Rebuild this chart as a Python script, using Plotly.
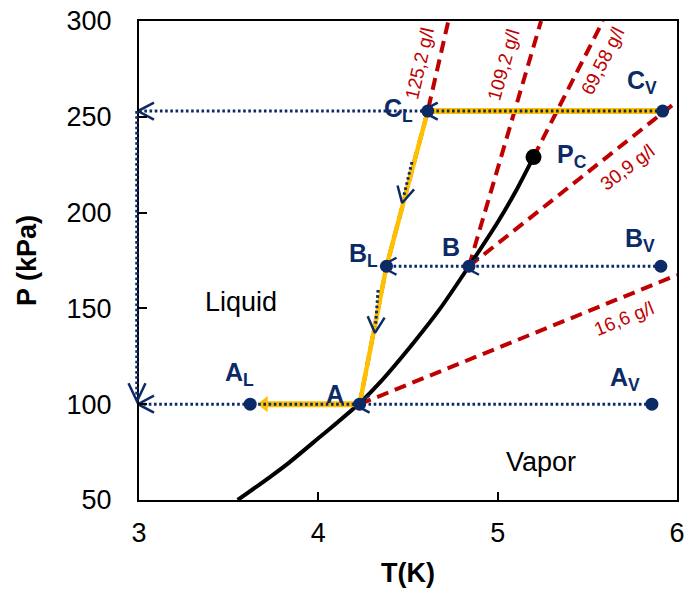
import numpy as np
import plotly.graph_objects as go

# ---------------- data ----------------
T_RANGE = [3, 6]
P_RANGE = [50, 300]
T_TICKS = [3, 4, 5, 6]
P_TICKS = [50, 100, 150, 200, 250, 300]

# saturated vapour-pressure curve (T in K, P in kPa)
sat_T = [3.55, 3.73, 3.83, 4.01, 4.10, 4.23, 4.34, 4.53, 4.68, 4.84, 5.00, 5.10, 5.20]
sat_P = [50.0, 62.0, 69.0, 83.0, 90.0, 100.5, 111.0, 132.0, 150.0, 172.0, 195.0, 211.0, 229.0]

# critical point
crit_T = [5.20]
crit_P = [229.0]

# states
state_names = ["A<sub>L</sub>", "A", "A<sub>V</sub>", "B<sub>L</sub>", "B", "B<sub>V</sub>",
               "C<sub>L</sub>", "C<sub>V</sub>"]
state_T = [3.62, 4.23, 5.86, 4.38, 4.84, 5.91, 4.61, 5.92]
state_P = [100, 100, 100, 172, 172, 172, 253, 253]
AL, A, AV, BL, B, BV, CL, CV = list(zip(state_T, state_P))

# liquid path (orange)
liq_T = [4.23, 4.38, 4.61]
liq_P = [100, 172, 253]

# isochores
iso_names = ["125,2 g/l", "109,2 g/l", "69,58 g/l", "30,9 g/l", "16,6 g/l"]
iso_T = [[4.23, 4.38, 4.61, 4.725], [4.84, 5.242], [5.20, 5.587], [4.84, 6.0], [4.23, 6.0]]
iso_P = [[100, 172, 253, 300], [172, 300], [229, 300], [172, 258], [100, 167.4]]
iso_label_T = [4.567, 5.030, 5.582, 5.721, 5.705]
iso_label_P = [277.6, 277.0, 279.1, 223.8, 144.5]
iso_label_angle = [-77, -74, -63, -37, -22]

region_names = ["Liquid", "Vapor"]
region_T = [3.569, 5.242]
region_P = [153.3, 69.8]

# small flow arrows along the liquid line
flow_T = [[4.522, 4.467], [4.333, 4.316]]
flow_P = [[226.4, 205.0], [159.6, 137.2]]

# ---------------- style ----------------
NAVY = "#0b2a66"
RED = "#c00000"
ORANGE = "#ffc000"
FONT = "Liberation Sans, Arial, sans-serif"

W, H = 687, 590
ML, MR, MT, MB = 139, 10, 21, 90
KX = (W - ML - MR) / (T_RANGE[1] - T_RANGE[0])   # px per K
KY = (H - MT - MB) / (P_RANGE[1] - P_RANGE[0])   # px per kPa


def chevron(t, p, dx, dy, back=0.0, length=16, half=8.5):
    """open arrowhead pointing in pixel direction (dx, dy) (y up), tip `back` px behind (t, p)"""
    n = np.hypot(dx, dy)
    ux, uy = dx / n, dy / n
    vx, vy = -uy, ux
    tx, ty = -back * ux, -back * uy
    pts = [(tx - length * ux + half * vx, ty - length * uy + half * vy),
           (tx, ty),
           (tx - length * ux - half * vx, ty - length * uy - half * vy)]
    return [t + a / KX for a, _ in pts], [p + b / KY for _, b in pts]


fig = go.Figure()

# isochores
for tt, pp in zip(iso_T, iso_P):
    fig.add_trace(go.Scatter(x=tt, y=pp, mode="lines",
                             line=dict(color=RED, width=4, dash="12px,7px")))

# saturation curve
fig.add_trace(go.Scatter(x=sat_T, y=sat_P, mode="lines",
                         line=dict(color="black", width=4, shape="spline", smoothing=0.6)))

# orange paths
fig.add_trace(go.Scatter(x=liq_T, y=liq_P, mode="lines", line=dict(color=ORANGE, width=4.5)))
fig.add_trace(go.Scatter(x=[CL[0], CV[0]], y=[CL[1], CV[1]], mode="lines",
                         line=dict(color=ORANGE, width=6)))
tri_T = AL[0] + 14 / KX
fig.add_trace(go.Scatter(x=[A[0], tri_T], y=[A[1], AL[1]], mode="lines",
                         line=dict(color=ORANGE, width=6)))
fig.add_trace(go.Scatter(x=[tri_T], y=[AL[1]], mode="markers",
                         marker=dict(symbol="triangle-left", size=14, color=ORANGE)))

# navy dotted paths
dot = dict(color=NAVY, width=3, dash="2.6px,2.6px")
segments = [
    ([CV[0], CL[0]], [CV[1], CL[1]]),
    ([CL[0], T_RANGE[0]], [CL[1], CL[1]]),
    ([AV[0], A[0]], [AV[1], A[1]]),
    ([A[0], AL[0]], [A[1], AL[1]]),
    ([AL[0], T_RANGE[0]], [AL[1], AL[1]]),
    ([BV[0], B[0]], [BV[1], B[1]]),
    ([B[0], BL[0]], [B[1], BL[1]]),
]
for tt, pp in segments:
    fig.add_trace(go.Scatter(x=tt, y=pp, mode="lines", line=dot))
for tt, pp in zip(flow_T, flow_P):
    fig.add_trace(go.Scatter(x=[tt[0], tt[1] + (tt[0] - tt[1]) * 0.15],
                             y=[pp[0], pp[1] + (pp[0] - pp[1]) * 0.15], mode="lines", line=dot))

# chevrons
chev = []
chev.append(chevron(CL[0], CL[1], -1, 0, back=-6))
chev.append(chevron(T_RANGE[0], CL[1], -1, 0, back=-1))
chev.append(chevron(A[0], A[1], -1, 0, back=-6))
chev.append(chevron(T_RANGE[0], AL[1], -1, 0, back=-1))
chev.append(chevron(B[0], B[1], -1, 0, back=-6))
chev.append(chevron(BL[0], BL[1], -1, 0, back=-6))
for tt, pp in zip(flow_T, flow_P):
    chev.append(chevron(tt[1], pp[1], (tt[1] - tt[0]) * KX, (pp[1] - pp[0]) * KY))
for cx, cy in chev:
    fig.add_trace(go.Scatter(x=cx, y=cy, mode="lines", line=dict(color=NAVY, width=2.5)))

# state points
fig.add_trace(go.Scatter(x=state_T, y=state_P, mode="markers",
                         marker=dict(color=NAVY, size=13)))
fig.add_trace(go.Scatter(x=crit_T, y=crit_P, mode="markers",
                         marker=dict(color="black", size=16)))

# left edge: vertical dotted return line & down arrow (drawn outside clip in x)
def to_paper(t):
    return (t - T_RANGE[0]) / (T_RANGE[1] - T_RANGE[0])

x_edge = T_RANGE[0] - 2 / KX
fig.add_shape(type="line", xref="paper", yref="y", x0=to_paper(x_edge), x1=to_paper(x_edge),
              y0=CL[1], y1=AL[1] + 6 / KY, line=dict(color=NAVY, width=3.5, dash="2.6px,2.6px"),
              layer="above")
dcx, dcy = chevron(x_edge, AL[1], 0, -1, back=3, length=18, half=8.5)
path = "M{},{} L{},{} L{},{}".format(to_paper(dcx[0]), dcy[0], to_paper(dcx[1]), dcy[1],
                                      to_paper(dcx[2]), dcy[2])
fig.add_shape(type="path", xref="paper", yref="y", path=path,
              line=dict(color=NAVY, width=2.5), layer="above")

# ---------------- annotations ----------------
# state labels: (dx, dy) in px of text centre relative to the point
label_offsets = [(-11, 30), (-25, 10), (-27, 25), (-23, 11), (-18, 19), (-21, 26),
                 (-29, 1), (-21, 29)]
for name, t, p, (ox, oy) in zip(state_names, state_T, state_P, label_offsets):
    fig.add_annotation(x=t, y=p, text="<b>" + name + "</b>", showarrow=False,
                       xshift=ox, yshift=oy, font=dict(family=FONT, size=25, color=NAVY))
fig.add_annotation(x=crit_T[0], y=crit_P[0], text="<b>P<sub>C</sub></b>", showarrow=False,
                   xshift=38, yshift=1, font=dict(family=FONT, size=25, color=NAVY))

for name, t, p, ang in zip(iso_names, iso_label_T, iso_label_P, iso_label_angle):
    fig.add_annotation(x=t, y=p, text=name, showarrow=False, textangle=ang,
                       font=dict(family=FONT, size=19, color=RED))

for name, t, p in zip(region_names, region_T, region_P):
    fig.add_annotation(x=t, y=p, text=name, showarrow=False,
                       font=dict(family=FONT, size=27, color="black"))

axis_common = dict(showgrid=False, zeroline=False, showline=True, linecolor="black",
                   linewidth=2, mirror=True, ticks="inside", ticklen=8, tickwidth=1.5,
                   tickcolor="black", automargin=False,
                   tickfont=dict(family=FONT, size=27, color="black"))
fig.update_xaxes(range=T_RANGE, tickvals=T_TICKS, ticklabelstandoff=8,
                 title=dict(text="<b>T(K)</b>", font=dict(family=FONT, size=27), standoff=16),
                 **axis_common)
fig.update_yaxes(range=P_RANGE, tickvals=P_TICKS, ticklabelstandoff=20,
                 title=dict(text="<b>P (kPa)</b>", font=dict(family=FONT, size=27), standoff=22),
                 **axis_common)

fig.update_layout(width=W, height=H, margin=dict(l=ML, r=MR, t=MT, b=MB),
                  plot_bgcolor="white", paper_bgcolor="white", showlegend=False,
                  font=dict(family=FONT, color="black"))

# the page body has a default 8px margin; remove it so the figure fills the window
fig.write_html("out.html", config={"displayModeBar": False},
               post_script="document.body.style.margin='0px';")
